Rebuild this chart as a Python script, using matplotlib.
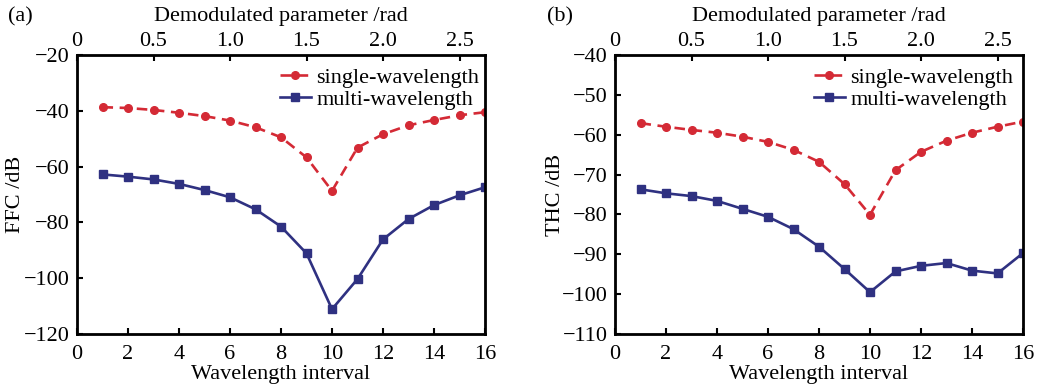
import matplotlib
matplotlib.use("Agg")
import matplotlib.pyplot as plt

# data
interval = [1, 2, 3, 4, 5, 6, 7, 8, 9, 10, 11, 12, 13, 14, 15, 16]

ffc_single = [-38.7, -39.0, -39.7, -40.7, -41.9, -43.5, -45.9, -49.5,
              -56.7, -68.7, -53.2, -48.4, -45.2, -43.3, -41.6, -40.5]
ffc_multi = [-62.8, -63.6, -64.6, -66.2, -68.4, -71.0, -75.3, -81.5,
             -91.1, -111.1, -100.3, -86.1, -78.8, -73.8, -70.3, -67.4]

thc_single = [-57.1, -58.0, -58.8, -59.5, -60.5, -61.8, -63.8, -66.8,
              -72.4, -80.1, -68.9, -64.3, -61.5, -59.5, -58.0, -56.7]
thc_multi = [-73.7, -74.7, -75.4, -76.6, -78.6, -80.6, -83.7, -88.1,
             -93.7, -99.5, -94.3, -92.9, -92.2, -94.1, -94.8, -89.7]

rad_per_interval = 1 / 6.0
top_ticks = [0, 0.5, 1.0, 1.5, 2.0, 2.5]
top_labels = ['0', '0.5', '1.0', '1.5', '2.0', '2.5']

red = '#d42a35'
navy = '#2f3181'

plt.rcParams['font.family'] = ['Liberation Serif', 'DejaVu Serif']
plt.rcParams['font.size'] = 16

fig = plt.figure(figsize=(10.38, 3.84), dpi=100)
ax1 = fig.add_axes([77 / 1038, 50 / 384, 408 / 1038, 279 / 384])
ax2 = fig.add_axes([615 / 1038, 50 / 384, 408 / 1038, 279 / 384])


def panel(ax, single, multi, ylim, yticks, ylabel, tag, tag_x, ylab_x, leg_x):
    ax.plot(interval, single, color=red, ls=(0, (4, 2.5)), lw=1.9, marker='o',
            ms=5.5, label='single-wavelength')
    ax.plot(interval, multi, color=navy, lw=1.9, marker='s', ms=6,
            label='multi-wavelength')
    ax.set_xlim(0, 16)
    ax.set_ylim(*ylim)
    ax.set_xticks(range(0, 17, 2))
    ax.set_yticks(yticks)
    ax.set_yticklabels([str(t).replace('-', '\u2212') for t in yticks])
    ax.set_xlabel('Wavelength interval', labelpad=1)
    ax.set_ylabel(ylabel)
    ax.yaxis.set_label_coords(ylab_x, 0.5)
    ax.tick_params(direction='in', length=4, width=1.5)
    ax.tick_params(axis='x', pad=8)
    ax.tick_params(axis='y', pad=5)
    for s in ax.spines.values():
        s.set_linewidth(2)
    ax.legend(loc='upper right', bbox_to_anchor=(leg_x, 1 - 7 / 279),
              frameon=False, handlelength=1.4,
              handletextpad=0.25, borderaxespad=0.1, borderpad=0.15,
              labelspacing=0.05, fontsize=16)

    top = ax.twiny()
    top.set_xlim(0, 16 * rad_per_interval)
    top.set_xticks(top_ticks)
    top.set_xticklabels(top_labels)
    top.tick_params(direction='in', length=4, width=1.5, pad=3)
    bb = ax.get_position()
    fig.text((bb.x0 + bb.x1) / 2, 1 - 17 / 384, 'Demodulated parameter /rad',
             ha='center', va='center', fontsize=16)
    fig.text(tag_x, 1 - 17 / 384, tag, fontsize=16, va='center')


panel(ax1, ffc_single, ffc_multi, (-120, -20), [-120, -100, -80, -60, -40, -20],
      'FFC /dB', '(a)', 8 / 1038, -0.127, 1.0)
panel(ax2, thc_single, thc_multi, (-110, -40),
      [-110, -100, -90, -80, -70, -60, -50, -40], 'THC /dB', '(b)', 547 / 1038,
      -0.123, 0.99)

fig.savefig('out.png', dpi=100)
